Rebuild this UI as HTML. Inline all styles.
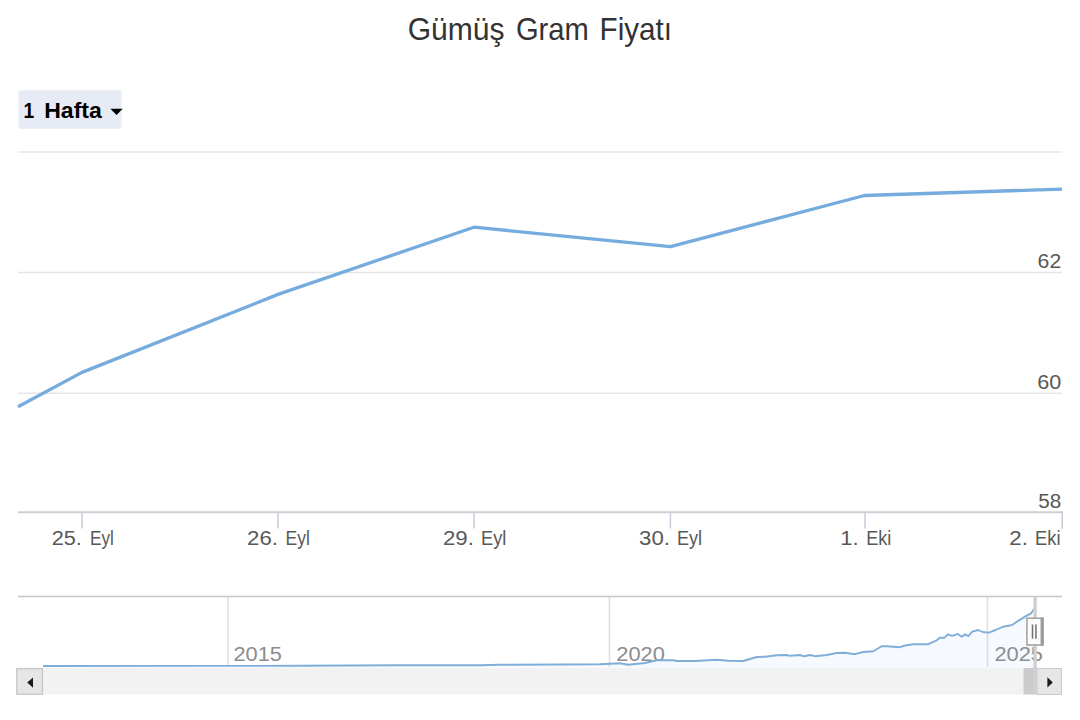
<!DOCTYPE html>
<html><head><meta charset="utf-8">
<style>
html,body{margin:0;padding:0;background:#fff;width:1080px;height:720px;overflow:hidden;}
svg{display:block;font-family:"Liberation Sans",sans-serif;}
</style></head>
<body>
<svg width="1080" height="720" viewBox="0 0 1080 720">
<rect x="0" y="0" width="1080" height="720" fill="#ffffff"/>
<!-- title -->
<g><text x="407.70" y="39.8" font-size="32" fill="#333333" textLength="96.90" lengthAdjust="spacingAndGlyphs">Gümüş</text><text x="515.90" y="39.8" font-size="32" fill="#333333" textLength="72.90" lengthAdjust="spacingAndGlyphs">Gram</text><text x="599.60" y="39.8" font-size="32" fill="#333333" textLength="72.40" lengthAdjust="spacingAndGlyphs">Fiyatı</text></g>
<!-- range dropdown -->
<rect x="18.5" y="90.2" width="103" height="38.6" rx="2" fill="#e7ebf5"/>
<g><text x="23.60" y="118" font-size="22.5" font-weight="bold" fill="#000000" textLength="10.70" lengthAdjust="spacingAndGlyphs">1</text><text x="44.20" y="118" font-size="22.5" font-weight="bold" fill="#000000" textLength="57.60" lengthAdjust="spacingAndGlyphs">Hafta</text></g>
<path d="M110.4 108.8 L122.7 108.8 L116.5 115 Z" fill="#000"/>
<!-- grid -->
<g stroke="#e6e6e6" stroke-width="1.5" fill="none">
<path d="M18 152.1 H1062"/>
<path d="M18 272.6 H1062"/>
<path d="M18 393.2 H1062"/>
</g>
<!-- x axis -->
<path d="M18 512.2 H1062.5" stroke="#cdcfd6" stroke-width="1.9"/>
<g stroke="#c9d0dc" stroke-width="1.6">
<path d="M82 512 V528.5"/>
<path d="M278 512 V528.5"/>
<path d="M474 512 V528.5"/>
<path d="M670.4 512 V528.5"/>
<path d="M865 512 V528.5"/>
<path d="M1062.2 511.5 V528.8"/>
</g>
<g font-size="20" fill="#585858">
<text x="51.70" y="545.2" textLength="30.20" lengthAdjust="spacingAndGlyphs">25.</text><text x="90.00" y="545.2" textLength="23.90" lengthAdjust="spacingAndGlyphs">Eyl</text>
<text x="247.10" y="545.2" textLength="30.80" lengthAdjust="spacingAndGlyphs">26.</text><text x="285.60" y="545.2" textLength="24.30" lengthAdjust="spacingAndGlyphs">Eyl</text>
<text x="442.90" y="545.2" textLength="31.00" lengthAdjust="spacingAndGlyphs">29.</text><text x="481.00" y="545.2" textLength="25.30" lengthAdjust="spacingAndGlyphs">Eyl</text>
<text x="639.10" y="545.2" textLength="30.80" lengthAdjust="spacingAndGlyphs">30.</text><text x="677.00" y="545.2" textLength="25.10" lengthAdjust="spacingAndGlyphs">Eyl</text>
<text x="840.30" y="545.2" textLength="18.40" lengthAdjust="spacingAndGlyphs">1.</text><text x="866.20" y="545.2" textLength="25.10" lengthAdjust="spacingAndGlyphs">Eki</text>
<text x="1009.30" y="545.2" textLength="18.60" lengthAdjust="spacingAndGlyphs">2.</text><text x="1035.00" y="545.2" textLength="25.50" lengthAdjust="spacingAndGlyphs">Eki</text>
</g>
<g font-size="20.5" fill="#585858" text-anchor="end">
<text x="1061.2" y="267.9" textLength="23.6" lengthAdjust="spacingAndGlyphs">62</text>
<text x="1061.2" y="388.7" textLength="24" lengthAdjust="spacingAndGlyphs">60</text>
<text x="1061.2" y="507.5" textLength="23" lengthAdjust="spacingAndGlyphs">58</text>
</g>
<!-- series -->
<path d="M18 406.8 L82 372.4 L278 294.4 L474 227.2 L670.5 246.6 L864.5 195.5 L1062 189.1" stroke="#76abde" stroke-width="3.3" fill="none" stroke-linejoin="round"/>

<!-- navigator -->
<path d="M18 596.5 H1062" stroke="#c6c6c6" stroke-width="1.5"/>
<g stroke="#e0e0e0" stroke-width="1.6">
<path d="M228 597 V667"/>
<path d="M609.5 597 V667"/>
<path d="M987.5 597 V667"/>
</g>
<g font-size="20" fill="#8c8c8c">
<text x="233.5" y="660.5" textLength="48.5" lengthAdjust="spacingAndGlyphs">2015</text>
<text x="616.3" y="660.5" textLength="48.5" lengthAdjust="spacingAndGlyphs">2020</text>
<text x="994.4" y="660.5" textLength="48.5" lengthAdjust="spacingAndGlyphs">2025</text>
</g>
<path d="M43 666 L200 665.9 L300 665.8 L400 665.2 L480 665.2 L500 664.8 L560 664.5 L600 664.2 L620 663.3 L628.3 664.7 L645 663 L656.7 660.3 L673.3 660.3 L676.7 661 L695 661 L716.7 659.7 L728.3 660.7 L743.3 661 L756.7 657 L765 656.7 L776.7 655.3 L786.7 655 L790 655.8 L800 655 L804 656.3 L810 655 L815 656.2 L826.7 655 L836.7 653 L845 652.7 L855 654.2 L863.3 652 L873.3 651.3 L881.7 646.3 L886.7 646.3 L900 647.2 L905 645.5 L913.3 644.2 L928.3 644.2 L936.7 640.3 L940 637.8 L944.4 637.8 L947.8 634.4 L952.2 635.9 L957.8 633.9 L961.7 636.7 L965 634.4 L968.3 636.1 L972.2 631.7 L978.3 630 L982.8 632 L988.9 632.6 L995.6 630 L1003.3 626.7 L1012.2 625 L1017.8 621.1 L1026.7 615.6 L1031.1 613.3 L1034 609 L1034 668 L43 668 Z" fill="#7cb5ec" fill-opacity="0.07" stroke="none"/>
<path d="M43 666 L200 665.9 L300 665.8 L400 665.2 L480 665.2 L500 664.8 L560 664.5 L600 664.2 L620 663.3 L628.3 664.7 L645 663 L656.7 660.3 L673.3 660.3 L676.7 661 L695 661 L716.7 659.7 L728.3 660.7 L743.3 661 L756.7 657 L765 656.7 L776.7 655.3 L786.7 655 L790 655.8 L800 655 L804 656.3 L810 655 L815 656.2 L826.7 655 L836.7 653 L845 652.7 L855 654.2 L863.3 652 L873.3 651.3 L881.7 646.3 L886.7 646.3 L900 647.2 L905 645.5 L913.3 644.2 L928.3 644.2 L936.7 640.3 L940 637.8 L944.4 637.8 L947.8 634.4 L952.2 635.9 L957.8 633.9 L961.7 636.7 L965 634.4 L968.3 636.1 L972.2 631.7 L978.3 630 L982.8 632 L988.9 632.6 L995.6 630 L1003.3 626.7 L1012.2 625 L1017.8 621.1 L1026.7 615.6 L1031.1 613.3 L1034 609" stroke="#80aed8" stroke-width="1.9" fill="none" stroke-linejoin="round"/>

<!-- scrollbar -->
<rect x="18" y="668" width="1044" height="26.5" fill="#f2f2f2"/>
<rect x="16.8" y="668.6" width="25.6" height="25.6" fill="#e6e6e6" stroke="#c8c8c8" stroke-width="1.4"/>
<path d="M33 677.4 L33 687.8 L27.2 682.6 Z" fill="#1a1a1a"/>
<rect x="1023.5" y="668" width="13.5" height="26.5" fill="#cccccc"/>
<rect x="1037" y="668.5" width="24.5" height="26" fill="#e6e6e6" stroke="#cccccc" stroke-width="1"/>
<path d="M1047.4 677.3 L1047.4 687.6 L1052.8 682.45 Z" fill="#1a1a1a"/>
<!-- handle -->
<rect x="1036.8" y="645.6" width="7" height="5.5" fill="#ffffff"/>
<path d="M1035.1 597 V694" stroke="#d0d0d0" stroke-width="3.4"/>
<rect x="1026.9" y="618.2" width="15.6" height="26.8" fill="#fbfbfb" stroke="#999999" stroke-width="1.4"/>
<rect x="1040.6" y="617.5" width="3.2" height="28.2" fill="#999999"/>
<path d="M1032.5 624.4 V638.8 M1035.9 624.4 V638.8" stroke="#707070" stroke-width="1.5"/>
</svg>
</body></html>
